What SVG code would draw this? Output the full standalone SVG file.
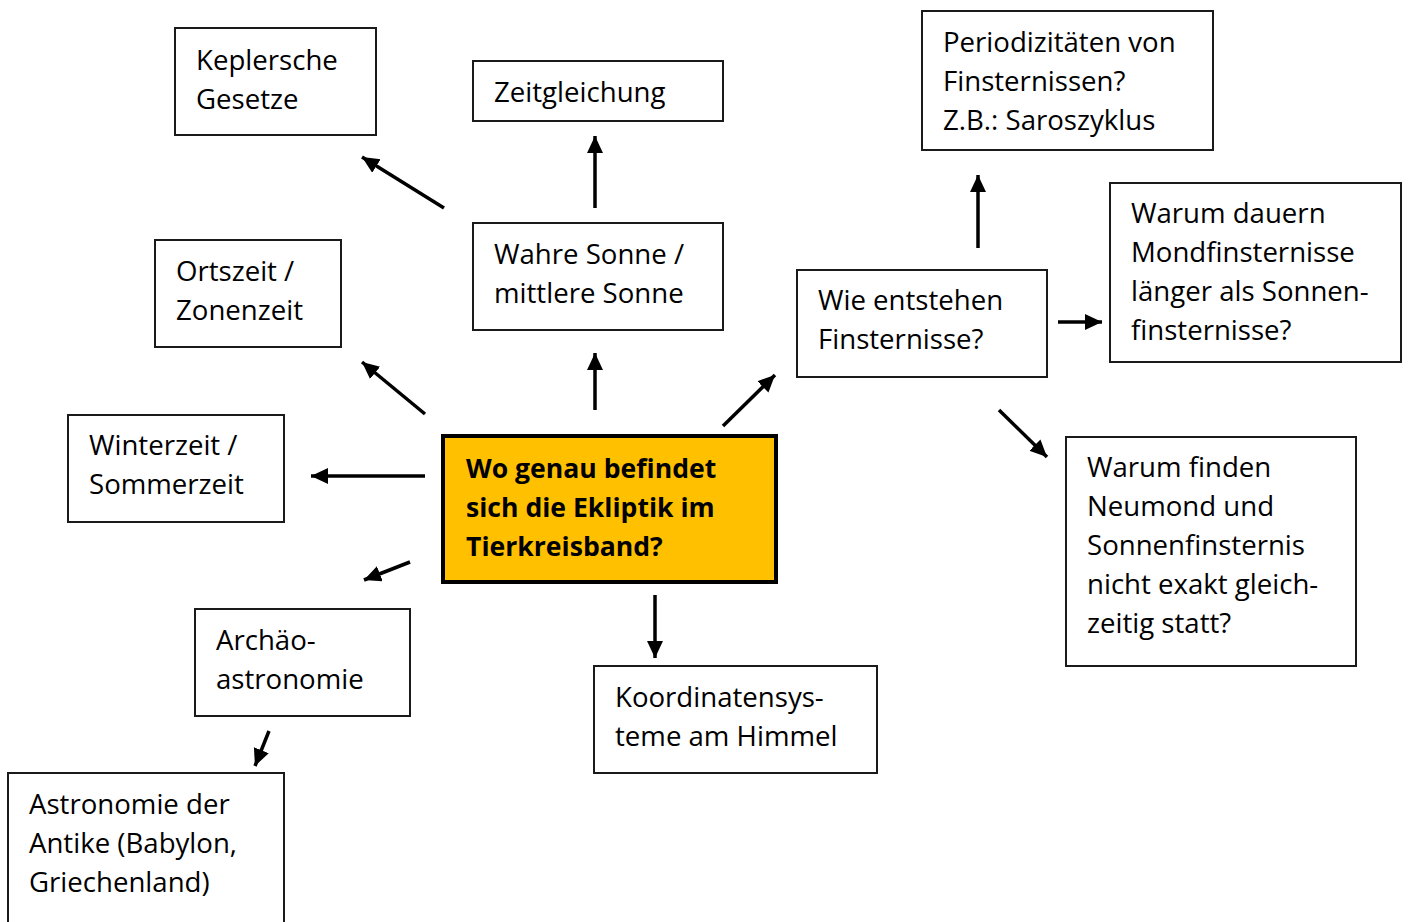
<svg xmlns="http://www.w3.org/2000/svg" width="1408" height="922" viewBox="0 0 1408 922">
<defs>
<style>
.box{fill:#fff;stroke:#1a1a1a;stroke-width:2}
.main{fill:#FFC000;stroke:#000;stroke-width:4}
text{font-family:"Open Sans","Noto Sans",sans-serif;font-size:27.6px;fill:#000}
.b{font-weight:bold;font-size:26.6px}
.arr{stroke:#000;stroke-width:3.5;fill:none;marker-end:url(#ah)}
</style>
<marker id="ah" markerUnits="userSpaceOnUse" markerWidth="20" markerHeight="18" refX="17" refY="8" orient="auto">
<path d="M0,0 L17,8 L0,16 z" fill="#000"/>
</marker>
</defs>
<rect width="1408" height="922" fill="#fff"/>
<g id="connectors">
<line class="arr" x1="444" y1="208" x2="362" y2="157"/>
<line class="arr" x1="595" y1="208" x2="595" y2="136"/>
<line class="arr" x1="425" y1="414" x2="362" y2="362"/>
<line class="arr" x1="595" y1="410" x2="595" y2="353"/>
<line class="arr" x1="425" y1="476" x2="311" y2="476"/>
<line class="arr" x1="410" y1="562" x2="364" y2="580"/>
<line class="arr" x1="269" y1="731" x2="255" y2="766"/>
<line class="arr" x1="655" y1="595" x2="655" y2="658"/>
<line class="arr" x1="723" y1="426" x2="775" y2="375"/>
<line class="arr" x1="978" y1="248" x2="978" y2="175"/>
<line class="arr" x1="1058" y1="322" x2="1102" y2="322"/>
<line class="arr" x1="999" y1="410" x2="1047" y2="457"/>
</g>
<g id="n-kepler"><rect class="box" x="175" y="28" width="201" height="107"/><text x="196" y="70">Keplersche</text><text x="196" y="109">Gesetze</text></g>
<g id="n-zeitgleichung"><rect class="box" x="473" y="61" width="250" height="60"/><text x="494" y="102">Zeitgleichung</text></g>
<g id="n-sonne"><rect class="box" x="473" y="223" width="250" height="107"/><text x="494" y="264">Wahre Sonne /</text><text x="494" y="303">mittlere Sonne</text></g>
<g id="n-ortszeit"><rect class="box" x="155" y="240" width="186" height="107"/><text x="176" y="281">Ortszeit /</text><text x="176" y="320">Zonenzeit</text></g>
<g id="n-winterzeit"><rect class="box" x="68" y="415" width="216" height="107"/><text x="89" y="455">Winterzeit /</text><text x="89" y="494">Sommerzeit</text></g>
<g id="n-main"><rect class="main" x="443" y="436" width="333" height="146"/><text class="b" x="466" y="478">Wo genau befindet</text><text class="b" x="466" y="517">sich die Ekliptik im</text><text class="b" x="466" y="556">Tierkreisband?</text></g>
<g id="n-archaeo"><rect class="box" x="195" y="609" width="215" height="107"/><text x="216" y="650">Archäo-</text><text x="216" y="689">astronomie</text></g>
<g id="n-antike"><rect class="box" x="8" y="773" width="276" height="160"/><text x="29" y="814">Astronomie der</text><text x="29" y="853">Antike (Babylon,</text><text x="29" y="892">Griechenland)</text></g>
<g id="n-koordinaten"><rect class="box" x="594" y="666" width="283" height="107"/><text x="615" y="707">Koordinatensys-</text><text x="615" y="746">teme am Himmel</text></g>
<g id="n-finsternisse"><rect class="box" x="797" y="270" width="250" height="107"/><text x="818" y="310">Wie entstehen</text><text x="818" y="349">Finsternisse?</text></g>
<g id="n-periodizitaet"><rect class="box" x="922" y="11" width="291" height="139"/><text x="943" y="52">Periodizitäten von</text><text x="943" y="91">Finsternissen?</text><text x="943" y="130">Z.B.: Saroszyklus</text></g>
<g id="n-dauern"><rect class="box" x="1110" y="183" width="291" height="179"/><text x="1131" y="223">Warum dauern</text><text x="1131" y="262">Mondfinsternisse</text><text x="1131" y="301">länger als Sonnen-</text><text x="1131" y="340">finsternisse?</text></g>
<g id="n-neumond"><rect class="box" x="1066" y="437" width="290" height="229"/><text x="1087" y="477">Warum finden</text><text x="1087" y="516">Neumond und</text><text x="1087" y="555">Sonnenfinsternis</text><text x="1087" y="594">nicht exakt gleich-</text><text x="1087" y="633">zeitig statt?</text></g>
</svg>
